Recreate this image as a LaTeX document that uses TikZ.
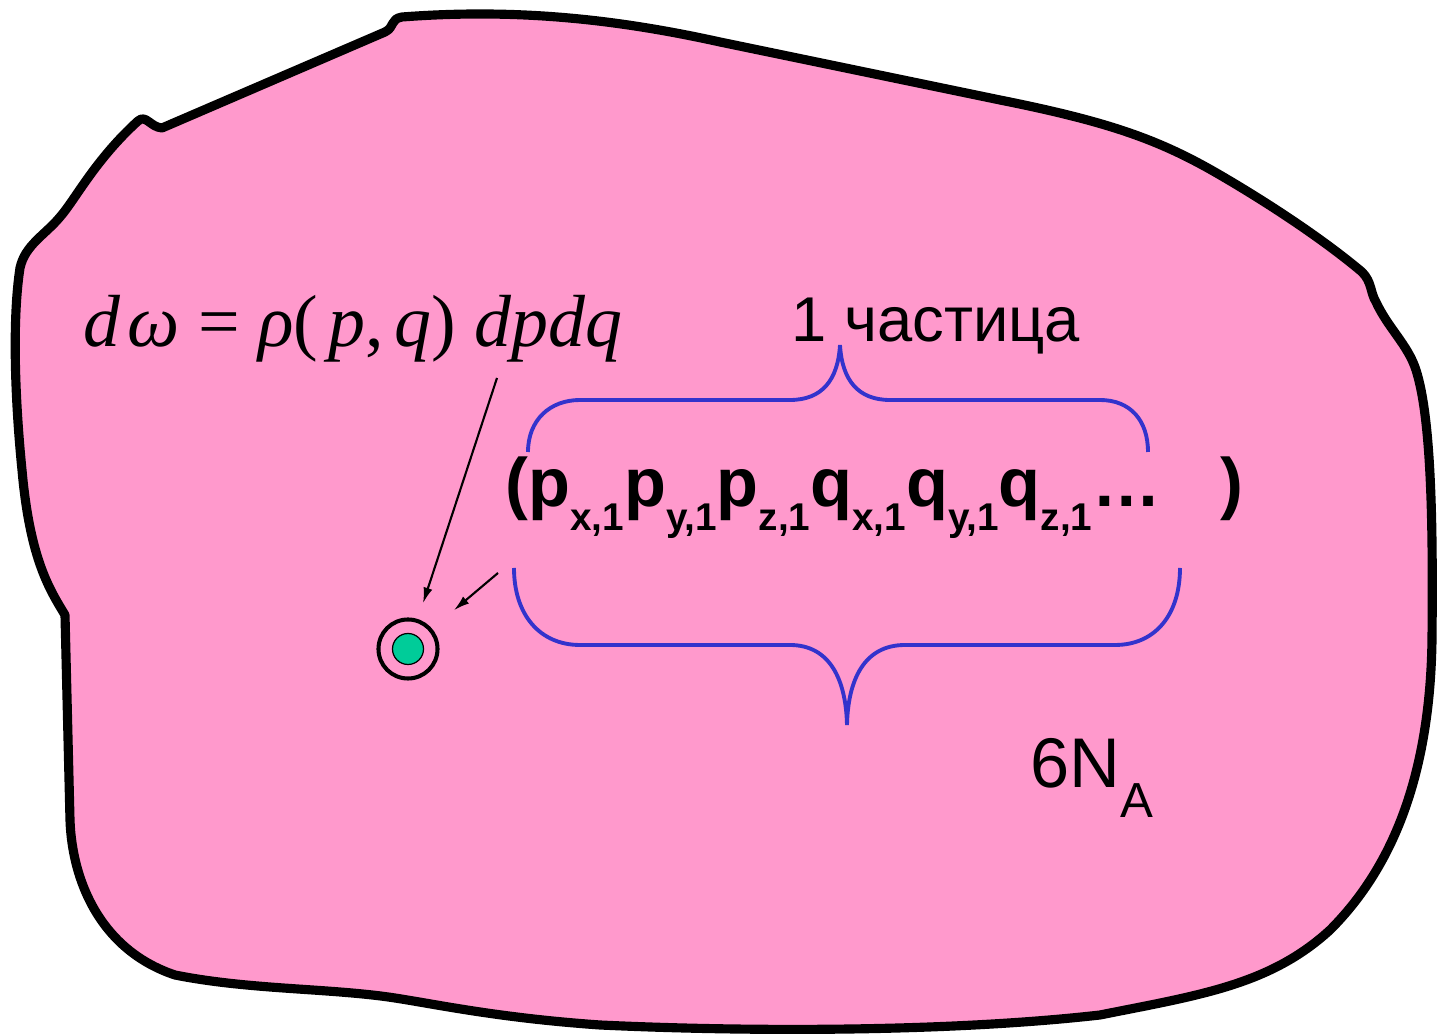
\documentclass[tikz,border=0pt]{standalone}
\usepackage{fontspec}
\setmainfont{Liberation Sans}
\newfontfamily\timesfont{Liberation Serif}
\usepackage{xcolor}
\usetikzlibrary{arrows.meta,calc}

\definecolor{blobpink}{HTML}{FF99CC}
\definecolor{dotgreen}{HTML}{00CC99}
\definecolor{braceblue}{HTML}{3333CC}

\newcommand{\lowsub}[1]{\raisebox{-0.23cm}{\fontsize{11pt}{12pt}\selectfont #1}}

\begin{document}
\begin{tikzpicture}[x=0.01cm,y=-0.01cm,
    outline/.style={draw=black,line width=2.6pt,fill=blobpink,line join=round},
    brace/.style={draw=braceblue,line width=1.1pt},
    pointer/.style={-{Latex[length=4.5pt,width=2.6pt]},line width=0.6pt},
    ring/.style={circle,draw=black,line width=1.15pt,minimum size=0.59cm,inner sep=0pt},
    label/.style={inner sep=0pt}]
      \useasboundingbox (0,0) rectangle (1438,1034);

      % Phase space region
      \draw[outline] (138,121)
        .. controls (146,114) and (150,127) .. (162,128)
        -- (385,32)
        .. controls (395,27) and (390,19) .. (402,17)
        .. controls (520,8) and (620,20) .. (720,42)
        -- (1000,100)
        .. controls (1110,122) and (1160,140) .. (1220,175)
        .. controls (1280,210) and (1330,245) .. (1362,272)
        .. controls (1372,282) and (1370,292) .. (1376,302)
        .. controls (1388,328) and (1408,345) .. (1416,370)
        .. controls (1432,420) and (1433,530) .. (1432,640)
        .. controls (1430,780) and (1390,870) .. (1330,930)
        .. controls (1270,985) and (1200,995) .. (1100,1015)
        .. controls (950,1032) and (750,1032) .. (600,1025)
        .. controls (500,1018) and (440,1005) .. (395,998)
        .. controls (330,988) and (250,990) .. (175,975)
        .. controls (100,950) and (72,880) .. (70,820)
        -- (65,615)
        .. controls (50,590) and (30,560) .. (22,470)
        .. controls (15,400) and (12,320) .. (20,268)
        .. controls (25,245) and (45,235) .. (60,217)
        .. controls (75,200) and (95,160) .. (138,121)
        -- cycle;

      % Braces
      \draw[brace] (528,452) .. controls (528,420) and (550,400) .. (580,400)
        -- (790,400) .. controls (822,400) and (838,380) .. (840,345)
        .. controls (842,380) and (858,400) .. (890,400)
        -- (1100,400) .. controls (1130,400) and (1148,420) .. (1148,452);
      \draw[brace] (514,568) .. controls (514,615) and (540,645) .. (580,645)
        -- (790,645) .. controls (830,645) and (846,680) .. (847,725)
        .. controls (848,680) and (864,645) .. (905,645)
        -- (1115,645) .. controls (1155,645) and (1180,615) .. (1180,568);

      % Point in phase space
      \node[ring] (dot) at (408,649) {};
      \node[circle,draw=black,line width=0.35pt,fill=dotgreen,minimum size=0.31cm,inner sep=0pt] (core) at (dot) {};

      % Labels
      \node[label,anchor=base] (formula) at (353,347)
        {\timesfont\fontsize{21pt}{25pt}\selectfont\textit{d}\kern2pt\textit{ω} = \textit{ρ}(\kern3pt\textit{p},\kern3pt\textit{q}) \textit{dpdq}};
      \node[label,anchor=base] (particle) at (936,342) {\fontsize{18pt}{22pt}\selectfont 1 частица};
      \node[label,anchor=base west] (tuple) at (505,507)
        {\fontsize{19.5pt}{23pt}\selectfont\bfseries (p\lowsub{x,1}p\lowsub{y,1}p\lowsub{z,1}q\lowsub{x,1}q\lowsub{y,1}q\lowsub{z,1}…\hspace{0.6cm})};
      \node[label,anchor=base west] (count) at (1030,788)
        {\fontsize{20pt}{24pt}\selectfont 6N\raisebox{-0.29cm}{\fontsize{14pt}{16pt}\selectfont A}};

      % Pointers
      \coordinate (tail1) at (497,378);
      \coordinate (tail2) at (498,573);
      \draw[pointer,shorten >=0.48cm] (tail1) -- (dot.center);
      \draw[pointer,shorten >=0.6cm] (tail2) -- (dot.center);
    \end{tikzpicture}
\end{document}
